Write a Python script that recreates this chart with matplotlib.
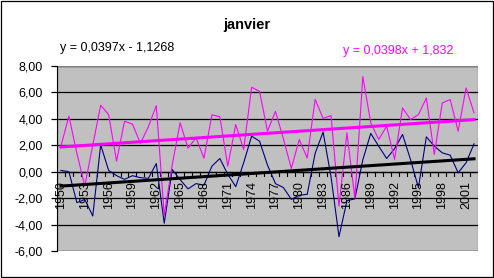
import numpy as np
import matplotlib
matplotlib.use("Agg")
import matplotlib.pyplot as plt
from matplotlib.patches import Rectangle

plt.rcParams['font.family'] = ['Liberation Sans', 'DejaVu Sans']

# --- data ---
years = list(range(1950, 2003))

serie_bleue = [
    0.10, 0.00, -2.34, -2.10, -3.35, 2.03, 0.10, -0.30, -0.58, -0.30,
    -0.45, -0.50, 0.62, -3.90, 0.17, -0.60, -1.30, -0.90, -1.02, 0.42,
    1.00, -0.20, -1.13, 0.68, 2.69, 2.31, 0.50, -0.90, -1.20, -2.09,
    -1.78, -1.71, 1.40, 3.00, -0.40, -4.92, -2.20, -2.05, 0.90, 2.90,
    1.93, 1.00, 1.74, 2.82, 0.93, -1.21, 2.64, 1.93, 1.43, 1.25,
    -0.08, 0.68, 2.11,
]
serie_rose = [
    1.95, 4.20, 1.40, -1.08, 2.00, 5.03, 4.32, 0.80, 3.82, 3.60,
    2.15, 3.40, 5.00, -3.30, 0.50, 3.70, 1.78, 2.57, 1.03, 4.30,
    4.17, 0.42, 3.57, 1.68, 6.39, 6.08, 3.07, 4.57, 2.50, 0.25,
    2.44, 1.03, 5.48, 4.03, 4.25, -2.60, 2.94, -2.00, 7.20, 3.70,
    2.44, 3.44, 0.93, 4.83, 3.95, 4.32, 5.58, 1.30, 5.20, 5.46,
    3.07, 6.34, 4.45,
]

# courbes de tendance (equations affichees sur le graphe)
pente = [0.0397, 0.0398]
origine = [-1.1268, 1.832]
equations = ["y = 0,0397x - 1,1268", "y = 0,0398x + 1,832"]

y_ticks = [-6, -4, -2, 0, 2, 4, 6, 8]

# --- figure ---
W, H = 494, 278
fig = plt.figure(figsize=(W / 100, H / 100), dpi=100)
fig.patch.set_facecolor('white')
fig.patches.append(Rectangle((0.5 / W, 1.5 / H), 492 / W, 276 / H,
                             transform=fig.transFigure, fill=False,
                             edgecolor='black', linewidth=0.9))

ax = fig.add_axes([57 / W, 1 - 251 / H, (478 - 57) / W, (251 - 66) / H])
ax.set_facecolor('#C0C0C0')

pos = np.arange(len(years))
idx = pos + 1  # Excel numerote les points a partir de 1

ax.plot(pos, serie_bleue, color='#000080', linewidth=0.8, zorder=3)
ax.plot(pos, serie_rose, color='#FF00FF', linewidth=0.8, zorder=4)
ax.plot(pos, pente[0] * idx + origine[0], color='black', linewidth=2.2, zorder=5)
ax.plot(pos, pente[1] * idx + origine[1], color='#FF00FF', linewidth=2.2, zorder=6)

ax.set_xlim(-0.5, len(years) - 0.5)
ax.set_ylim(-6, 8)

# grille horizontale + axe des valeurs
ax.set_yticks(y_ticks)
ax.set_yticklabels([f"{v:.2f}".replace('.', ',') for v in y_ticks], fontsize=9)
ax.yaxis.grid(True, color='black', linewidth=0.9)
ax.set_axisbelow(True)
ax.tick_params(axis='y', direction='out', length=4, width=0.9, pad=6)

# cadre gris de la zone de traçage
for s in ['top', 'right', 'bottom']:
    ax.spines[s].set_visible(False)
ax.spines['left'].set_color('black')
ax.spines['left'].set_zorder(8)
ax.add_patch(Rectangle((0, 0), 1, 1, transform=ax.transAxes, fill=False,
                       edgecolor='#808080', linewidth=1.0, zorder=7))

# axe des categories croise a 0
ax.set_xticks([])
ax.axhline(0, color='black', linewidth=0.9, zorder=2.5)
for p in pos - 0.5:
    ax.plot([p, p], [0, -0.3], color='black', linewidth=0.8, zorder=2.6)
for p, y in zip(pos[::3], years[::3]):
    ax.annotate(str(y), xy=(p, 0), xycoords='data', xytext=(0, -7),
                textcoords='offset points', rotation=90, ha='center',
                va='top', fontsize=9, zorder=9)

# titre et equations
fig.text(247 / W, 1 - 25 / H, "janvier", ha='center', va='center',
         fontsize=10.5, fontweight='bold')
fig.text(60 / W, 1 - 48 / H, equations[0], ha='left', va='center',
         fontsize=9, color='black')
fig.text(343 / W, 1 - 51 / H, equations[1], ha='left', va='center',
         fontsize=9, color='#FF00FF')

fig.savefig('out.png', dpi=100)
